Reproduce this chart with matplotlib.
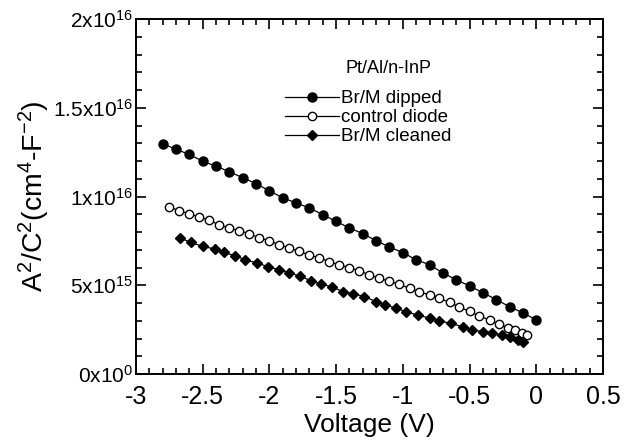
import matplotlib
matplotlib.use("Agg")
import matplotlib.pyplot as plt
from matplotlib.ticker import MultipleLocator, FixedLocator

plt.rcParams['font.family'] = ['Liberation Sans', 'DejaVu Sans']
plt.rcParams['mathtext.fontset'] = 'custom'
plt.rcParams['mathtext.rm'] = 'Liberation Sans'

# Br/M dipped
v_dipped = [-2.8, -2.7, -2.6, -2.5, -2.4, -2.3, -2.2, -2.1, -2.0, -1.9,
            -1.8, -1.7, -1.6, -1.5, -1.4, -1.3, -1.2, -1.1, -1.0, -0.9,
            -0.8, -0.7, -0.6, -0.5, -0.4, -0.3, -0.2, -0.1, 0.0]
c_dipped = [12.98, 12.66, 12.37, 11.99, 11.71, 11.40, 11.06, 10.73, 10.32, 9.93,
            9.64, 9.36, 8.98, 8.60, 8.23, 7.91, 7.51, 7.16, 6.84, 6.44,
            6.16, 5.70, 5.31, 4.97, 4.58, 4.20, 3.79, 3.45, 3.05]

# control diode
v_control = [-2.75, -2.68, -2.60, -2.53, -2.45, -2.38, -2.30, -2.23, -2.15, -2.08,
             -2.00, -1.93, -1.85, -1.78, -1.70, -1.63, -1.55, -1.48, -1.40, -1.33,
             -1.25, -1.18, -1.10, -1.03, -0.95, -0.88, -0.80, -0.73, -0.65, -0.58,
             -0.50, -0.43, -0.35, -0.28, -0.21, -0.16, -0.11, -0.07]
c_control = [9.42, 9.21, 9.04, 8.85, 8.66, 8.42, 8.23, 8.08, 7.91, 7.68,
             7.51, 7.29, 7.10, 6.91, 6.72, 6.54, 6.34, 6.16, 5.99, 5.82,
             5.59, 5.40, 5.23, 5.06, 4.83, 4.63, 4.46, 4.28, 4.04, 3.79,
             3.53, 3.28, 3.05, 2.80, 2.60, 2.49, 2.30, 2.20]

# Br/M cleaned
v_cleaned = [-2.67, -2.59, -2.50, -2.41, -2.34, -2.26, -2.18, -2.09, -2.01, -1.93,
             -1.85, -1.77, -1.69, -1.61, -1.53, -1.45, -1.37, -1.29, -1.20, -1.13,
             -1.05, -0.98, -0.89, -0.80, -0.73, -0.64, -0.55, -0.48, -0.40, -0.33,
             -0.26, -0.20, -0.14, -0.10]
c_cleaned = [7.67, 7.42, 7.19, 7.05, 6.85, 6.67, 6.44, 6.25, 6.05, 5.88,
             5.72, 5.50, 5.27, 5.08, 4.90, 4.65, 4.52, 4.37, 4.08, 3.90,
             3.71, 3.52, 3.33, 3.15, 3.01, 2.85, 2.67, 2.49, 2.39, 2.30,
             2.20, 2.11, 1.92, 1.82]

scale = 1e15
y_ticks = [0, 5e15, 1e16, 1.5e16, 2e16]
y_ticklabels = [r'$\mathregular{0x10^{0}}$', r'$\mathregular{5x10^{15}}$',
                r'$\mathregular{1x10^{16}}$', r'$\mathregular{1.5x10^{16}}$',
                r'$\mathregular{2x10^{16}}$']
x_ticks = [-3, -2.5, -2, -1.5, -1, -0.5, 0, 0.5]
x_ticklabels = ['-3', '-2.5', '-2', '-1.5', '-1', '-0.5', '0', '0.5']

fig = plt.figure(figsize=(6.31, 4.48), dpi=100)
ax = fig.add_axes([0.2155, 0.165, 0.7401, 0.7925])

ax.plot(v_dipped, [c * scale for c in c_dipped], '-', color='black', lw=0.9,
        marker='o', ms=6.5, mfc='black', mec='black', label='Br/M dipped')
ax.plot(v_control, [c * scale for c in c_control], '-', color='black', lw=0.9,
        marker='o', ms=6, mfc='white', mec='black', mew=1.0, label='control diode')
ax.plot(v_cleaned, [c * scale for c in c_cleaned], '-', color='black', lw=0.9,
        marker='D', ms=4.8, mfc='black', mec='black', label='Br/M cleaned')

ax.set_xlim(-3, 0.5)
ax.set_ylim(0, 2e16)
ax.xaxis.set_major_locator(FixedLocator(x_ticks))
ax.set_xticklabels(x_ticklabels)
ax.xaxis.set_minor_locator(MultipleLocator(0.1))
ax.yaxis.set_major_locator(FixedLocator(y_ticks))
ax.set_yticklabels(y_ticklabels)
ax.yaxis.set_minor_locator(MultipleLocator(1e15))

ax.tick_params(which='both', direction='in', top=True, right=True, width=1.2)
ax.tick_params(which='major', length=7)
ax.tick_params(which='minor', length=4)
ax.tick_params(axis='x', labelsize=18, pad=8)
ax.tick_params(axis='y', labelsize=15, pad=2)
for s in ax.spines.values():
    s.set_linewidth(1.4)

ax.set_xlabel('Voltage (V)', fontsize=19, labelpad=3)
ax.set_ylabel(r'$\mathregular{A^2/C^2(cm^4\text{-}F^{-2})}$', fontsize=20.5)
ax.yaxis.set_label_coords(-0.18, 0.5)

ax.text(0.54, 0.862, 'Pt/Al/n-InP', transform=ax.transAxes, fontsize=13,
        ha='center', va='center')
leg = ax.legend(loc='upper left', bbox_to_anchor=(0.319, 0.80), frameon=False,
                fontsize=13.5, handlelength=2.9, handletextpad=0.1,
                labelspacing=0.1, borderpad=0, borderaxespad=0)

fig.savefig('out.png', dpi=100)
